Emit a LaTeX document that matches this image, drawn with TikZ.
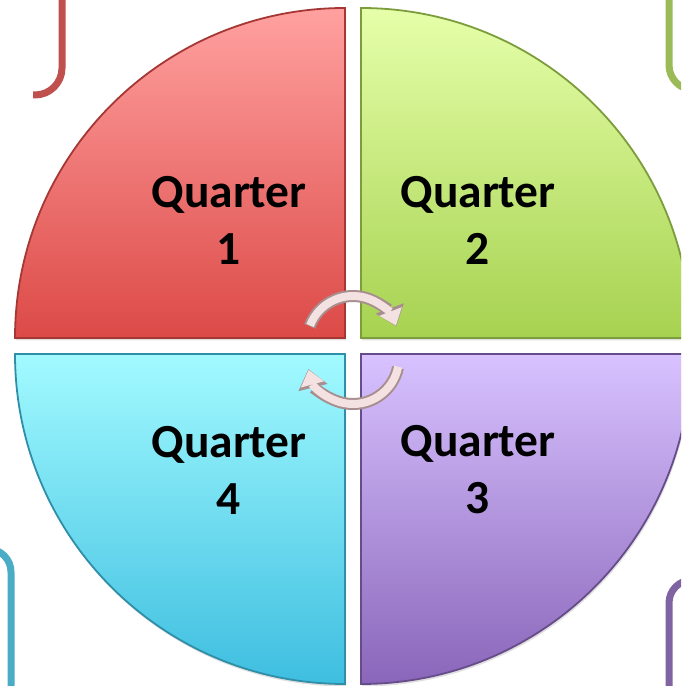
\documentclass[tikz,border=0pt]{standalone}
\usepackage{fontspec}
\setmainfont{Carlito}
\usetikzlibrary{arrows.meta,shadows}

\definecolor{redline}{HTML}{C0504D}
\definecolor{greenline}{HTML}{9BBB59}
\definecolor{blueline}{HTML}{4BACC6}
\definecolor{purpleline}{HTML}{8064A2}
\definecolor{redtop}{HTML}{FFA1A0}
\definecolor{redbot}{HTML}{DC4A47}
\definecolor{greentop}{HTML}{E6FFAA}
\definecolor{greenbot}{HTML}{A6D250}
\definecolor{bluetop}{HTML}{A2FAFF}
\definecolor{bluebot}{HTML}{3EBEE0}
\definecolor{purpletop}{HTML}{D8C2FF}
\definecolor{purplebot}{HTML}{8A66BA}
\definecolor{arrowfill}{HTML}{F4E2E2}
\definecolor{arrowedge}{HTML}{A88E8E}

\begin{document}
\begin{tikzpicture}[x=1pt, y=1pt,
  quad/.style 2 args={top color=#1, bottom color=#2, draw=#2!75!black,
                      line width=1.8pt,
                      drop shadow={opacity=0.25, shadow xshift=1pt, shadow yshift=-2.5pt}},
  bracket/.style={draw=#1, line width=7pt},
  cycout/.style={draw=arrowedge, line width=12pt,
                 -{Triangle[width=30pt, length=19pt, line width=0pt]}},
  cycin/.style={draw=arrowfill, line width=8pt,
                -{Triangle[width=24pt, length=15pt, line width=0pt]}},
  qlabel/.style={align=center, inner sep=0pt,
                 font=\bfseries\fontsize{47.5}{57}\selectfont}
]
\useasboundingbox (0,0) rectangle (681,686);
\clip (0,0) rectangle (681,686);

% corner brackets
\draw[bracket=redline] (62,691) -- (62,618) arc[start angle=0, end angle=-90, radius=27] -- (33,591);
\draw[bracket=greenline] (669,691) -- (669,621) arc[start angle=180, end angle=270, radius=25] -- (700,596);
\draw[bracket=blueline] (-20,137) -- (-12,137) arc[start angle=90, end angle=0, radius=23] -- (11,-5);
\draw[bracket=purpleline] (669,-5) -- (669,83) arc[start angle=180, end angle=90, radius=23] -- (700,106);

% the four quarters
\path[quad={redtop}{redbot}] (345,348) -- (15,348) arc[start angle=180, end angle=90, radius=330] -- cycle;
\path[quad={greentop}{greenbot}] (361,348) -- (361,678) arc[start angle=90, end angle=0, radius=330] -- cycle;
\path[quad={purpletop}{purplebot}] (361,332) -- (691,332) arc[start angle=0, end angle=-90, radius=330] -- cycle;
\path[quad={bluetop}{bluebot}] (345,332) -- (345,2) arc[start angle=270, end angle=180, radius=330] -- cycle;

% cycle arrows
\draw[cycout] ([shift={(353,344)}]160:46) arc[start angle=160, end angle=20, radius=46];
\draw[cycin] ([shift={(353,344)}]159:46) arc[start angle=159, end angle=21, radius=46];
\draw[cycout] ([shift={(353,328)}]-12:46) arc[start angle=-12, end angle=-166, radius=46];
\draw[cycin] ([shift={(353,328)}]-11:46) arc[start angle=-11, end angle=-165, radius=46];

% labels
\node[qlabel] (q1) at (229,466) {Quarter\\1};
\node[qlabel] (q2) at (478,466) {Quarter\\2};
\node[qlabel] (q3) at (478,216) {Quarter\\3};
\node[qlabel] (q4) at (229,216) {Quarter\\4};
\end{tikzpicture}
\end{document}
